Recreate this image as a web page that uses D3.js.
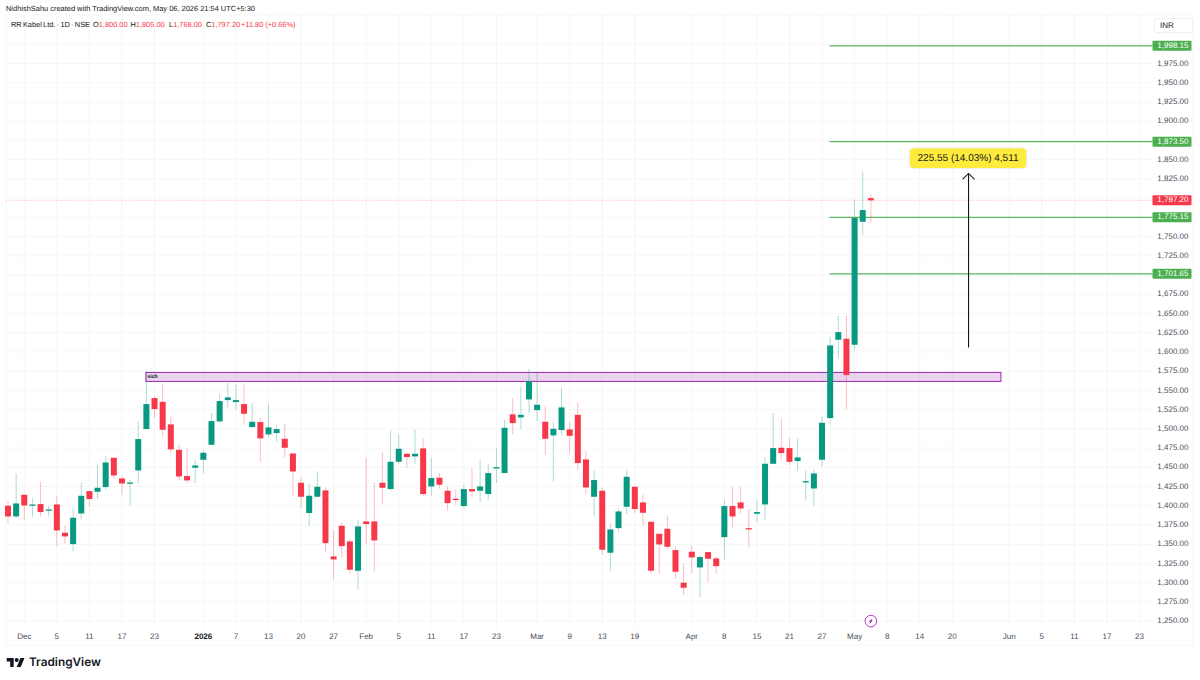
<!DOCTYPE html>
<html>
<head>
<meta charset="utf-8">
<script src="https://d3js.org/d3.v7.min.js"></script>
<style>
html,body{margin:0;padding:0;background:#fff;}
svg{display:block;font-family:"Liberation Sans",Arial,sans-serif;text-rendering:geometricPrecision;}
</style>
</head>
<body>
<svg id="c" width="1200" height="680"></svg>
<script>
const opens=[1400,1386.1,1414.3,1400,1402.2,1393.5,1401.7,1364.9,1350.1,1390,1419,1418.2,1424.3,1462.4,1435.5,1428.6,1445.9,1499.7,1540,1535.2,1505.8,1472.8,1438.6,1449.4,1459.8,1479.3,1509.7,1537.4,1534.8,1532.2,1502.3,1508.8,1492.8,1494.5,1487.1,1468,1429.9,1390.5,1411.7,1420,1334.1,1374,1353.6,1315.5,1379.6,1379.6,1429.9,1421.7,1457.2,1467.6,1464.2,1474.6,1425.1,1436.4,1419.5,1409.1,1399.6,1421.7,1419.5,1415.2,1448.5,1442.5,1518.8,1514.9,1538.3,1524.4,1509.2,1491.5,1498.4,1499.3,1518.3,1460.2,1411.7,1419.5,1338.9,1370.9,1398.7,1424.7,1404.3,1379.2,1363.6,1370.1,1342.3,1299.9,1340.2,1319.8,1339.7,1331.5,1359.2,1399.6,1404.3,1370.9,1389.6,1401.7,1454.6,1475.4,1475,1458.1,1430.3,1422.5,1459.8,1514,1615.9,1617.2,1609.4,1769.3,1800];
const highs=[1406.1,1441.6,1414.3,1410.4,1431.2,1400,1413.4,1374.4,1397.4,1429.9,1419,1452.9,1464.2,1462.4,1437.3,1433.8,1509.7,1576,1543,1558.7,1515.3,1479.3,1474.6,1459.8,1472,1520.5,1545.2,1559.5,1557.8,1559.1,1533.5,1514.4,1532.2,1504.9,1506.6,1468,1437.3,1428.6,1444.6,1423.8,1368.3,1377.9,1355.8,1381.8,1461.6,1429.9,1469.4,1498,1492.8,1467.6,1498.8,1487.6,1462.4,1442.5,1425.1,1420.8,1427.7,1448.5,1459,1454.2,1474.6,1512.3,1539.6,1554.8,1577.7,1573.4,1529.2,1508.4,1553.5,1509.7,1533.9,1472,1445.9,1423.8,1377.5,1396.5,1445.9,1424.7,1414.3,1379.2,1363.6,1386.6,1347.1,1325,1348.4,1335.4,1340.2,1334.1,1407.8,1424.7,1424.7,1395.7,1406.5,1463.3,1519.6,1513.6,1488.4,1487.1,1445.9,1447.2,1516.2,1619.3,1647.5,1647.5,1797.9,1834.8,1805];
const lows=[1376.6,1384.4,1381.8,1385.3,1386.1,1386.1,1347.1,1350.6,1341,1381.8,1399.1,1408.7,1420.4,1434.7,1413.9,1400.4,1429,1499.7,1514,1489.7,1468.5,1433,1429.9,1429.5,1442.5,1479.3,1507.5,1527.4,1524.8,1505.8,1501.4,1457.2,1488.9,1483.2,1462.9,1412.6,1397,1373.5,1411.3,1340.2,1303.8,1332.8,1311.1,1290.8,1350.1,1314.6,1401.7,1419.5,1454.2,1449.4,1454.6,1412.1,1412.6,1422.1,1393.5,1400.4,1397,1410.8,1404.8,1406.9,1429.9,1442.5,1492.8,1499.7,1520.5,1510.1,1465.9,1431.2,1491.5,1469.8,1446.4,1414.7,1386.1,1336.7,1315,1365.7,1389.2,1390.5,1373.5,1311.6,1312,1343.2,1305.5,1283.8,1312.4,1281.2,1300.3,1311.6,1330.2,1371.8,1390,1346.2,1377.9,1382.2,1454.6,1460.7,1452.9,1445.9,1407.4,1399.6,1451.1,1504.9,1592,1525.3,1602,1752,1768];
const closes=[1386.1,1403,1400.4,1401.7,1391.8,1395.2,1367.9,1360.1,1384.4,1413,1408.7,1423.4,1456.3,1439.4,1429,1430.3,1486.7,1532.2,1525.7,1498.8,1473.3,1438.1,1433,1452.4,1468.9,1510.1,1536.1,1540.9,1537.4,1519.6,1509.2,1487.6,1501.9,1499.7,1475.4,1444.6,1411.7,1413,1424.7,1351.4,1330.2,1347.5,1316.8,1373.1,1376.2,1354.9,1423.4,1457.2,1474.1,1463.3,1467.6,1415.2,1436,1427.3,1403.5,1407.4,1421.7,1418.6,1425.1,1442.5,1450.3,1501.4,1507.5,1518.3,1562.1,1531.3,1487.1,1500.1,1527.9,1491,1455.5,1423.8,1433.4,1342.8,1369.2,1392.6,1437.7,1395.7,1390.9,1315.5,1349.7,1346.7,1314.2,1293.4,1332.8,1333.2,1331.1,1321.5,1399.6,1386.1,1396.5,1369.2,1391.8,1454.6,1475,1468.5,1457.2,1462.9,1432.1,1442,1507.9,1608.5,1625.8,1569.9,1774.5,1784.5,1797.2];
const xTickIndex=[2,6,10,14,18,24,28,32,36,40,44,48,52,56,60,65,69,73,77,84,88,92,96,100,104,108,112,116,123,127,131,135,139];
const xTickLabels=["Dec","5","11","17","23","2026","7","13","20","27","Feb","5","11","17","23","Mar","9","13","19","Apr","8","15","21","27","May","8","14","20","Jun","5","11","17","23"];
const yTicks=[1250,1275,1300,1325,1350,1375,1400,1425,1450,1475,1500,1525,1550,1575,1600,1625,1650,1675,1725,1750,1825,1850,1900,1925,1950,1975];
const levels=[1998.15,1873.50,1775.15,1701.65];
const lastPrice=1797.20;
const zoneTop=1573.4, zoneBottom=1561.7, zoneStart=17, zoneEnd=122, levelStart=100.9;
const arrowIndex=118, arrowFrom=1605.9, arrowTo=1832.2;
const GREEN="#089981", RED="#F7374A", LINE="#4CAF50", GRID="#f6f6f7", INK="#131722", AXIS="#4a4d57";

const svg=d3.select("#c");
const x=d3.scaleLinear().domain([0,139]).range([8,1139.5]);
const y=d3.scaleLinear().domain([1250,1975]).range([621.1,63.6]);
const R=1152.5, L=6, T=15, B=628;

// frame
svg.append("rect").attr("x",L).attr("y",T).attr("width",1193-L).attr("height",645-T).attr("fill","none").attr("stroke","#f7f7f8");

// grid
svg.append("g").selectAll("line").data(xTickIndex).join("line")
  .attr("x1",d=>x(d)).attr("x2",d=>x(d)).attr("y1",T).attr("y2",B).attr("stroke",GRID);
svg.append("g").selectAll("line").data(d3.range(1250,2001,25)).join("line")
  .attr("x1",L).attr("x2",R).attr("y1",d=>y(d)).attr("y2",d=>y(d)).attr("stroke",GRID);

// x labels
svg.append("g").selectAll("text").data(xTickIndex).join("text")
  .attr("x",d=>x(d)).attr("y",637).attr("text-anchor","middle").attr("dominant-baseline","middle")
  .attr("font-size",8)
  .attr("fill",(d,i)=>xTickLabels[i]==="2026"?INK:AXIS)
  .attr("font-weight",(d,i)=>xTickLabels[i]==="2026"?700:400)
  .text((d,i)=>xTickLabels[i]);

// y labels
svg.append("g").selectAll("text").data(yTicks).join("text")
  .attr("x",1188.5).attr("y",d=>y(d)).attr("text-anchor","end").attr("dominant-baseline","middle")
  .attr("font-size",8).attr("fill",AXIS)
  .text(d=>d3.format(",.2f")(d));

// last price dotted line
svg.append("line").attr("x1",L).attr("x2",R).attr("y1",y(lastPrice)).attr("y2",y(lastPrice))
  .attr("stroke",RED).attr("stroke-opacity",0.45).attr("stroke-dasharray","1 1.5").attr("stroke-width",0.8);

// zone
svg.append("rect").attr("x",x(zoneStart)-0.5).attr("width",x(zoneEnd)-x(zoneStart)+0.3)
  .attr("y",y(zoneTop)).attr("height",y(zoneBottom)-y(zoneTop))
  .attr("fill","#9C27B0").attr("fill-opacity",0.2).attr("stroke","#9C27B0").attr("stroke-width",1);
svg.append("text").attr("x",x(zoneStart)+1).attr("y",y(zoneTop)+4.6).attr("dominant-baseline","middle")
  .attr("font-size",5.2).attr("font-weight",700).attr("fill",INK).text("sich");

// level lines
svg.append("g").selectAll("line").data(levels).join("line")
  .attr("x1",x(levelStart)).attr("x2",R).attr("y1",d=>y(d)).attr("y2",d=>y(d))
  .attr("stroke",LINE).attr("stroke-width",1.3).attr("stroke-opacity",0.9);

// candles
const idx=d3.range(closes.length);
const col=i=>closes[i]>=opens[i]?GREEN:RED;
svg.append("g").selectAll("line").data(idx).join("line")
  .attr("x1",i=>x(i)).attr("x2",i=>x(i)).attr("y1",i=>y(highs[i])).attr("y2",i=>y(lows[i]))
  .attr("stroke",col).attr("stroke-opacity",0.33).attr("stroke-width",1);
svg.append("g").selectAll("rect").data(idx).join("rect")
  .attr("x",i=>x(i)-3).attr("width",6)
  .attr("y",i=>y(Math.max(opens[i],closes[i])))
  .attr("height",i=>Math.max(1,Math.abs(y(opens[i])-y(closes[i]))))
  .attr("fill",col);

// arrow
const ax=x(arrowIndex), ay1=y(arrowFrom), ay2=y(arrowTo);
svg.append("line").attr("x1",ax).attr("x2",ax).attr("y1",ay1).attr("y2",ay2).attr("stroke",INK).attr("stroke-width",1.1);
svg.append("path").attr("d",d3.line()([[ax-6,ay2+6],[ax,ay2],[ax+6,ay2+6]])).attr("fill","none").attr("stroke",INK).attr("stroke-width",1.1);

// callout
svg.append("rect").attr("x",ax-58.5).attr("y",ay2-25).attr("width",116).attr("height",19.5).attr("rx",3)
  .attr("fill","#FFEB3B").style("filter","drop-shadow(0 0 1px rgba(0,0,0,.18))");
svg.append("text").attr("x",ax-0.5).attr("y",ay2-15).attr("text-anchor","middle").attr("dominant-baseline","middle")
  .attr("font-size",10).attr("fill",INK).text("225.55 (14.03%) 4,511");

// price tags
const tag=(v,fill)=>{
  svg.append("rect").attr("x",R).attr("y",y(v)-5).attr("width",39).attr("height",10).attr("rx",1).attr("fill",fill);
  svg.append("text").attr("x",1188.5).attr("y",y(v)).attr("text-anchor","end").attr("dominant-baseline","middle")
    .attr("font-size",8).attr("fill","#fff").text(d3.format(",.2f")(v));
};
levels.forEach(v=>tag(v,LINE));
tag(lastPrice,RED);

// currency box
svg.append("rect").attr("x",1154.5).attr("y",18.5).attr("width",38).attr("height",14).attr("rx",2).attr("fill","#fff").attr("stroke","#efeff0");
svg.append("text").attr("x",1160).attr("y",25.5).attr("dominant-baseline","middle").attr("font-size",8).attr("fill",INK).text("INR");

// header
svg.append("text").attr("x",6).attr("y",9.5).attr("dominant-baseline","middle").attr("font-size",7.45).attr("fill",INK)
  .text("NidhishSahu created with TradingView.com, May 06, 2026 21:54 UTC+5:30");
svg.append("text").attr("x",11).attr("y",25).attr("dominant-baseline","middle").attr("font-size",7.4).attr("word-spacing",-0.8).attr("fill",INK)
  .text("RR Kabel Ltd. · 1D · NSE");
const hdr=[["O",93,"1,800.00"],["H",130.5,"1,805.00"],["L",169,"1,768.00"],["C",206,"1,797.20"]];
hdr.forEach(h=>{
  const t=svg.append("text").attr("x",h[1]).attr("y",25).attr("dominant-baseline","middle").attr("font-size",7.4);
  t.append("tspan").attr("fill",INK).text(h[0]);
  t.append("tspan").attr("fill",RED).text(h[2]);
});
svg.append("text").attr("x",241).attr("y",25).attr("dominant-baseline","middle").attr("font-size",7.4).attr("fill",RED).text("+11.80 (+0.66%)");

// event icon
const ev=svg.append("g").attr("transform",`translate(${x(106)},${y(1250)})`);
ev.append("circle").attr("r",5.8).attr("fill","#fff").attr("stroke","#B93BD0").attr("stroke-width",1);
ev.append("path").attr("d","M1.6,-3.2 L-2,0.6 L-0.3,0.6 L-1.6,3.2 L2,-0.6 L0.3,-0.6 Z").attr("fill","#7A1FA2");

// logo
const logo=svg.append("g").attr("transform","translate(6.7,656) scale(0.5)").attr("fill","#131722");
logo.append("path").attr("d","M14 22H7V11H0V4h14v18zM28 22h-8l7.5-18h8L28 22z");
logo.append("circle").attr("cx",20).attr("cy",8).attr("r",4);
svg.append("text").attr("x",29).attr("y",663).attr("dominant-baseline","middle").attr("font-size",11.8).attr("font-weight",600).attr("font-family","Inter,sans-serif").attr("fill","#131722").text("TradingView");
</script>
</body>
</html>
